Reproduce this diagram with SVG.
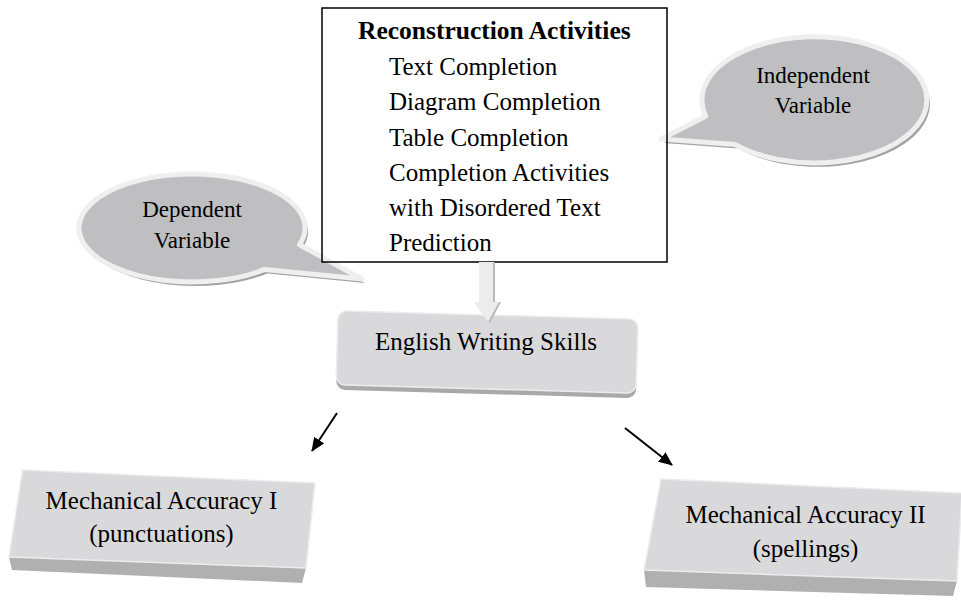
<svg xmlns="http://www.w3.org/2000/svg" width="961" height="604" viewBox="0 0 961 604">
<style>
.t{font-family:"Liberation Serif","Times New Roman",serif;fill:#000}
.c{text-anchor:middle}
.bub{fill:#bfbfc1;stroke:#efefef;stroke-width:5;stroke-linejoin:round}
.bubsh{fill:#a3a3a3}
.face{fill:#d9d9db;stroke:#ececec;stroke-width:1.5;stroke-linejoin:round}
.bev{fill:#b0b0b0}
.conn{stroke:#000;stroke-width:2;fill:none}
</style>
<defs>
<marker id="ah" viewBox="0 0 14 12" refX="13" refY="6" markerWidth="14" markerHeight="12" markerUnits="userSpaceOnUse" orient="auto">
<path d="M0,0 L14,6 L0,12 Z" fill="#000"/>
</marker>
</defs>
<rect width="961" height="604" fill="#fff"/>

<g id="dependent">
<path class="bubsh" transform="translate(3,4)" d="M299.5,244.7 L362,279 L264.6,269.4 A113 54 0 1 1 299.5,244.7 Z"/>
<path class="bub" d="M299.5,244.7 L362,279 L264.6,269.4 A113 54 0 1 1 299.5,244.7 Z"/>
<text class="t c" x="192" y="217" font-size="23">Dependent</text>
<text class="t c" x="192" y="248" font-size="23">Variable</text>
</g>

<g id="independent">
<path class="bubsh" transform="translate(3,4)" d="M705.8,116.3 L661,139 L735,144.5 A112.5 63 0 1 0 705.8,116.3 Z"/>
<path class="bub" d="M705.8,116.3 L661,139 L735,144.5 A112.5 63 0 1 0 705.8,116.3 Z"/>
<text class="t c" x="813" y="83" font-size="23">Independent</text>
<text class="t c" x="813" y="113" font-size="23">Variable</text>
</g>

<g id="activities">
<rect x="322" y="8" width="345" height="254" fill="none" stroke="#000" stroke-width="1.5"/>
<text class="t" x="358" y="39" font-size="25.5" font-weight="bold">Reconstruction Activities</text>
<text class="t" x="389" y="74.5" font-size="25">Text Completion</text>
<text class="t" x="389" y="110" font-size="25">Diagram Completion</text>
<text class="t" x="389" y="145.5" font-size="25">Table Completion</text>
<text class="t" x="389" y="181" font-size="25">Completion Activities</text>
<text class="t" x="389" y="216" font-size="25">with Disordered Text</text>
<text class="t" x="389" y="251" font-size="25">Prediction</text>
</g>

<g id="skills">
<rect x="-150" y="-37" width="300" height="74" rx="9" fill="#a9a9a9" transform="translate(487,357) rotate(1.6)"/>
<rect x="-150" y="-37" width="300" height="74" rx="9" class="face" transform="translate(487,352) rotate(1.6)"/>
<text class="t c" x="486" y="350" font-size="25">English Writing Skills</text>
</g>

<g id="accuracy1">
<polygon class="bev" points="9,557 306,568 302,583 12,570"/>
<polygon class="face" points="22.5,470 315,483 306,568 9,557"/>
<text class="t c" x="161.5" y="509" font-size="25">Mechanical Accuracy I</text>
<text class="t c" x="161.5" y="542" font-size="25">(punctuations)</text>
</g>

<g id="accuracy2">
<polygon class="bev" points="644,570 957,581 953,596 646,587"/>
<polygon class="face" points="661,479 962,493 957,581 644,570"/>
<text class="t c" x="805.5" y="523" font-size="25">Mechanical Accuracy II</text>
<text class="t c" x="805.5" y="557" font-size="25">(spellings)</text>
</g>

<g id="connectors">
<path d="M481,262 L495,262 L495,302 L501,302 L490,323 L476,302 L481,302 Z" fill="#b8b8b8"/>
<path d="M479,262 L493,262 L493,302 L499,302 L488,322 L474,302 L479,302 Z" fill="#ececec"/>
<line class="conn" x1="337" y1="413" x2="312" y2="451" marker-end="url(#ah)"/>
<line class="conn" x1="625" y1="428" x2="672" y2="465" marker-end="url(#ah)"/>
</g>
</svg>
